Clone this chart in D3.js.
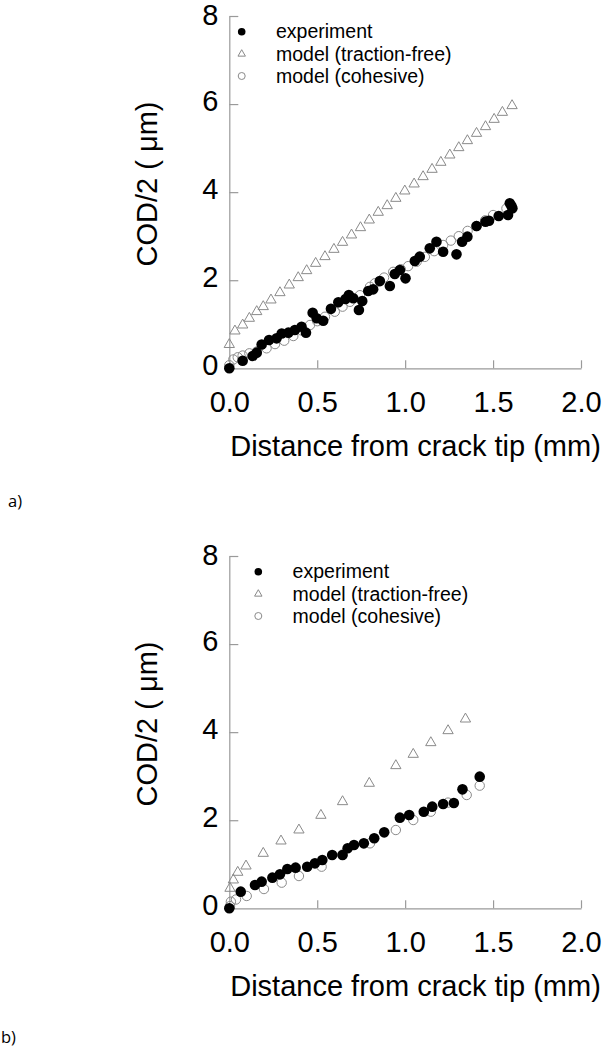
<!DOCTYPE html>
<html>
<head>
<meta charset="utf-8">
<script src="https://cdn.jsdelivr.net/npm/d3@7"></script>
<style>
  html, body { margin: 0; padding: 0; background: #fff; }
  svg { display: block; }
  text { font-family: "Liberation Sans", Arial, sans-serif; }
</style>
</head>
<body>
<svg id="chart" width="602" height="1050"></svg>
<script>
// ---------- data ----------
const xTicks = [0, 0.5, 1.0, 1.5, 2.0];
const yTicks = [0, 2, 4, 6, 8];
const xLabel = "Distance from crack tip (mm)";
const yLabel = "COD/2 ( \u03bcm)";
const legendLabels = ["experiment", "model (traction-free)", "model (cohesive)"];
const panelLabels = ["a)", "b)"];

// panel a
const aExpX = [0.0,0.076,0.133,0.156,0.184,0.226,0.269,0.298,0.336,0.373,0.411,0.436,0.474,0.497,0.534,0.578,0.62,0.661,0.68,0.705,0.737,0.756,0.79,0.818,0.856,0.913,0.941,0.97,1.002,1.055,1.083,1.14,1.178,1.216,1.292,1.324,1.354,1.406,1.457,1.477,1.532,1.585,1.595,1.604,1.61];
const aExpY = [0.0,0.17,0.28,0.355,0.54,0.643,0.68,0.79,0.81,0.87,0.945,0.81,1.263,1.135,1.08,1.35,1.5,1.574,1.665,1.59,1.324,1.528,1.755,1.793,1.98,1.869,2.14,2.232,2.043,2.436,2.535,2.724,2.875,2.648,2.588,2.875,2.989,3.231,3.33,3.35,3.458,3.48,3.746,3.69,3.632];
const aTfX = [0.0,0.032,0.076,0.114,0.156,0.193,0.237,0.288,0.341,0.392,0.44,0.491,0.544,0.595,0.644,0.695,0.746,0.796,0.847,0.898,0.947,0.998,1.051,1.102,1.153,1.203,1.254,1.305,1.354,1.406,1.457,1.506,1.553,1.608];
const aTfY = [0.54,0.847,0.983,1.135,1.287,1.40,1.551,1.717,1.891,2.058,2.217,2.383,2.535,2.701,2.860,3.027,3.193,3.367,3.542,3.693,3.859,4.026,4.185,4.351,4.518,4.677,4.843,5.010,5.169,5.335,5.487,5.653,5.812,5.964];
const aCohX = [0.0,0.023,0.048,0.076,0.114,0.156,0.212,0.26,0.3125,0.364,0.411,0.459,0.5,0.544,0.6,0.644,0.686,0.743,0.8,0.828,0.88,0.932,0.975,1.017,1.065,1.112,1.165,1.216,1.26,1.305,1.355,1.406,1.455,1.5,1.576];
const aCohY = [0.07,0.2,0.25,0.29,0.34,0.38,0.454,0.55,0.627,0.733,0.86,0.983,1.07,1.17,1.285,1.4,1.51,1.66,1.85,1.93,2.06,2.19,2.25,2.32,2.42,2.53,2.66,2.8,2.9,3.0,3.12,3.23,3.36,3.48,3.63];

// panel b
const bExpX = [0.0,0.065,0.146,0.184,0.245,0.288,0.33,0.377,0.443,0.487,0.529,0.585,0.644,0.673,0.709,0.765,0.824,0.881,0.97,1.023,1.106,1.154,1.216,1.277,1.326,1.424];
const bExpY = [0.0,0.378,0.529,0.605,0.696,0.771,0.892,0.923,0.945,1.021,1.097,1.21,1.21,1.362,1.437,1.475,1.589,1.725,2.058,2.119,2.194,2.308,2.368,2.39,2.701,2.989];
const bTfX = [0.004,0.023,0.048,0.095,0.193,0.294,0.396,0.521,0.644,0.796,0.947,1.046,1.146,1.244,1.343];
const bTfY = [0.454,0.643,0.817,0.96,1.248,1.528,1.778,2.111,2.421,2.838,3.239,3.496,3.761,4.033,4.298];
const bCohX = [0.004,0.009,0.038,0.099,0.197,0.298,0.396,0.525,0.644,0.8,0.947,1.046,1.146,1.244,1.35,1.424];
const bCohY = [0.05,0.15,0.2,0.28,0.438,0.582,0.733,0.945,1.22,1.475,1.778,2.005,2.194,2.4,2.573,2.785];

// ---------- drawing ----------
const svg = d3.select("#chart");
const GRAY = "#8a8a8a";
const AXIS = "#9a9a9a";

function zip(xs, ys) { return xs.map((x, i) => ({x: x, y: ys[i]})); }

function drawPanel(off, exp, tf, coh, legendX, panelLabel, panelLabelX, panelLabelY) {
  const x = d3.scaleLinear().domain([0, 2]).range([229.3, 581]);
  const y = d3.scaleLinear().domain([0, 8]).range([368.3 + off, 16 + off]);
  const g = svg.append("g");

  // axes
  const xAxis = d3.axisBottom(x).tickValues(xTicks).tickFormat(d3.format(".1f"))
    .tickSizeInner(-8).tickSizeOuter(0).tickPadding(23);
  const gx = g.append("g").attr("transform", `translate(0,${y(0)})`).call(xAxis);
  const yAxis = d3.axisLeft(y).tickValues(yTicks).tickFormat(d3.format("d"))
    .tickSizeInner(-9).tickSizeOuter(0).tickPadding(11);
  const gy = g.append("g").attr("transform", `translate(${x(0)},0)`).call(yAxis);
  [gx, gy].forEach(a => {
    a.select(".domain").attr("stroke", AXIS).attr("stroke-width", 1.2);
    a.selectAll(".tick line").attr("stroke", AXIS).attr("stroke-width", 1.2);
    a.selectAll(".tick text").attr("fill", "#000").style("font-size", "29px")
      .style("font-family", "'Liberation Sans', Arial, sans-serif");
  });
  gy.selectAll(".tick text").attr("dy", "0.22em");
  gy.selectAll(".tick").filter(d => d === 8).select("text").attr("dy", "0.3em");
  gx.selectAll(".tick").filter(d => d === 0).select("line").remove();
  gy.selectAll(".tick").filter(d => d === 0).select("line").remove();

  // axis titles
  g.append("text").attr("x", 415.5).attr("y", 456 + off)
    .attr("text-anchor", "middle").style("font-size", "29px").attr("fill", "#000")
    .text(xLabel);
  g.append("text").attr("transform", `translate(156.5,${184 + off}) rotate(-90)`)
    .attr("text-anchor", "middle").style("font-size", "29px").attr("fill", "#000")
    .text(yLabel);

  // data
  const tri = d3.symbol().type(d3.symbolTriangle).size(46);
  g.append("g").selectAll("circle").data(coh).join("circle")
    .attr("cx", d => x(d.x)).attr("cy", d => y(d.y)).attr("r", 4.7)
    .attr("fill", "none").attr("stroke", GRAY).attr("stroke-width", 1);
  g.append("g").selectAll("path").data(tf).join("path")
    .attr("d", tri).attr("transform", d => `translate(${x(d.x)},${y(d.y)})`)
    .attr("fill", "none").attr("stroke", GRAY).attr("stroke-width", 1);
  g.append("g").selectAll("circle").data(exp).join("circle")
    .attr("cx", d => x(d.x)).attr("cy", d => y(d.y)).attr("r", 5.3)
    .attr("fill", "#000");

  // legend
  const rowsY = [31.7 + off, 54 + off, 76 + off];
  const lg = g.append("g");
  lg.append("circle").attr("cx", legendX).attr("cy", rowsY[0]).attr("r", 3.8).attr("fill", "#000");
  lg.append("path").attr("d", d3.symbol().type(d3.symbolTriangle).size(24))
    .attr("transform", `translate(${legendX},${rowsY[1]})`)
    .attr("fill", "none").attr("stroke", GRAY).attr("stroke-width", 1);
  lg.append("circle").attr("cx", legendX).attr("cy", rowsY[2]).attr("r", 3.5)
    .attr("fill", "none").attr("stroke", GRAY).attr("stroke-width", 1);
  legendLabels.forEach((t, i) => {
    lg.append("text").attr("x", legendX + 34.3).attr("y", rowsY[i] + 6.5)
      .style("font-size", "19.5px").attr("fill", "#000").text(t);
  });

  // panel label
  svg.append("text").attr("x", panelLabelX).attr("y", panelLabelY)
    .style("font-family", "'Open Sans', 'Noto Sans', sans-serif").style("font-size", "16.5px")
    .attr("fill", "#000").text(panelLabel);
}

drawPanel(0, zip(aExpX, aExpY), zip(aTfX, aTfY), zip(aCohX, aCohY), 241.7, panelLabels[0], 8, 507);
drawPanel(540, zip(bExpX, bExpY), zip(bTfX, bTfY), zip(bCohX, bCohY), 258.3, panelLabels[1], 1, 1043);
</script>
</body>
</html>
